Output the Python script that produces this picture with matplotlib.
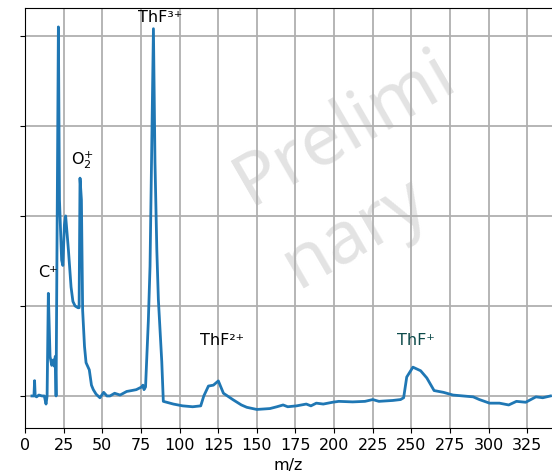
import matplotlib
matplotlib.use("Agg")
import matplotlib.pyplot as plt

# ---------------------------------------------------------------------------
# Spectrum trace (m/z, arbitrary intensity)
# 10 points per line in both lists so they stay paired
# ---------------------------------------------------------------------------
mz = [4.5, 5.8, 6.2, 6.6, 7.5, 9.0, 11.0, 12.5, 13.6, 14.3,
      15.1, 16.2, 17.3, 18.3, 19.0, 19.6, 20.1, 21.6, 22.3, 23.7,
      24.5, 25.5, 26.3, 28.1, 29.8, 31.0, 32.4, 34.3, 35.0, 35.6,
      36.5, 37.3, 38.5, 39.5, 41.6, 43.0, 44.2, 46.0, 48.5, 50.9,
      53.0, 55.0, 58.0, 61.5, 65.8, 69.0, 72.0, 75.5, 76.3, 77.0,
      78.0, 79.8, 80.9, 83.1, 84.1, 85.3, 86.3, 88.5, 89.5, 96.0,
      102.0, 108.5, 113.7, 115.7, 118.7, 121.9, 125.1, 128.4, 134.8, 140.0,
      143.5, 150.0, 158.5, 163.0, 167.0, 170.0, 175.7, 182.0, 185.0, 188.5,
      193.0, 199.0, 203.0, 212.0, 220.0, 225.0, 229.0, 238.0, 243.0, 245.0,
      247.0, 251.0, 256.0, 260.0, 264.7, 270.8, 277.0, 283.5, 290.0, 294.0,
      300.6, 307.0, 313.0, 318.0, 324.0, 330.6, 335.0, 340.0]
intensity = [0.0, 0.0, 0.17, 0.0, -0.01, 0.01, 0.0, 0.0, -0.09, 0.0,
             1.14, 0.44, 0.34, 0.40, 0.33, 0.44, 0.0, 4.10, 2.18, 1.51,
             1.45, 1.90, 2.0, 1.62, 1.21, 1.05, 1.0, 0.98, 0.98, 2.42,
             2.18, 0.95, 0.55, 0.37, 0.29, 0.12, 0.07, 0.02, -0.02, 0.04,
             0.0, 0.0, 0.03, 0.01, 0.05, 0.06, 0.07, 0.10, 0.12, 0.07,
             0.10, 0.83, 1.44, 4.08, 2.60, 1.62, 1.07, 0.38, -0.06, -0.09,
             -0.11, -0.12, -0.11, 0.0, 0.11, 0.12, 0.167, 0.03, -0.044, -0.10,
             -0.126, -0.15, -0.14, -0.12, -0.10, -0.12, -0.11, -0.09, -0.11, -0.08,
             -0.09, -0.07, -0.06, -0.066, -0.06, -0.04, -0.06, -0.05, -0.04, -0.02,
             0.21, 0.32, 0.28, 0.20, 0.06, 0.04, 0.01, 0.0, -0.01, -0.04,
             -0.08, -0.08, -0.10, -0.06, -0.07, -0.01, -0.02, 0.0]

# peak labels
peak_labels = ["C⁺", "O$_2^{+}$", "ThF³⁺", "ThF²⁺", "ThF⁺"]
label_mz = [8.4, 30.0, 73.0, 113.5, 241.0]
label_y = [1.37, 2.62, 4.20, 0.62, 0.62]
label_colors = ["black", "black", "black", "black", "#0d4a4a"]

x_ticks = list(range(0, 326, 25))
y_ticks = [0, 1, 2, 3, 4]

fig = plt.figure(figsize=(5.52, 4.76), dpi=100)
ax = fig.add_axes([25 / 552, 48 / 476, 1 - 25 / 552, 420 / 476])

ax.plot(mz, intensity, color="#1f77b4", linewidth=2, zorder=3)

for txt, xm, ym, col in zip(peak_labels, label_mz, label_y, label_colors):
    ax.text(xm, ym, txt, fontsize=11.5, color=col, ha="left", va="center", zorder=4)

# watermark (anchor = baseline start of the last line)
ax.text(0.496, 0.378, "Prelimi\nnary", transform=ax.transAxes, fontsize=53,
        family="Noto Sans", fontstyle="normal", fontweight="normal",
        color="#e3e3e3", rotation=30,
        rotation_mode="anchor", ha="left", va="baseline",
        multialignment="left", linespacing=1.4, zorder=0)

ax.set_xlim(0, 341)
ax.set_ylim(-0.356, 4.31)
ax.set_xticks(x_ticks)
ax.set_yticks(y_ticks)
ax.set_yticklabels([])
ax.tick_params(axis="x", labelsize=11.5)
ax.set_xlabel("m/z", fontsize=11.5, labelpad=4)
ax.grid(True, color="#b0b0b0", linewidth=1.3, zorder=1)
ax.set_axisbelow(True)
ax.spines["right"].set_visible(False)

fig.savefig("out.png", dpi=100)
